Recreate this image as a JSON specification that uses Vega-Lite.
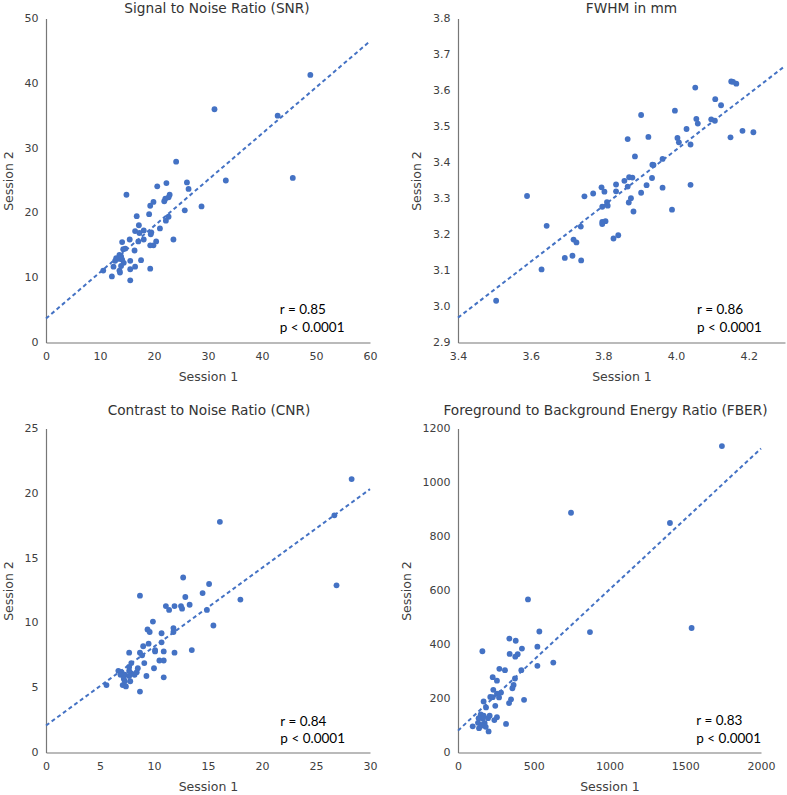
{
  "$schema": "https://vega.github.io/schema/vega-lite/v6.json",
  "background": "white",
  "padding": {"left": 2, "top": 1.5, "right": 0, "bottom": 0},
  "datasets": {
    "snr": [
      {"s1": 48.95, "s2": 41.3}, {"s1": 31.2, "s2": 36.0}, {"s1": 42.9, "s2": 35.0}, {"s1": 24.1, "s2": 27.9},
      {"s1": 33.3, "s2": 25.0}, {"s1": 45.7, "s2": 25.4}, {"s1": 26.1, "s2": 24.7}, {"s1": 22.3, "s2": 24.6},
      {"s1": 20.6, "s2": 24.1}, {"s1": 26.4, "s2": 23.7}, {"s1": 14.9, "s2": 22.8}, {"s1": 22.9, "s2": 22.8},
      {"s1": 22.7, "s2": 22.4}, {"s1": 22.1, "s2": 22.2}, {"s1": 21.9, "s2": 21.8}, {"s1": 19.9, "s2": 21.7},
      {"s1": 19.3, "s2": 21.1}, {"s1": 25.7, "s2": 20.4}, {"s1": 28.8, "s2": 21.0}, {"s1": 19.1, "s2": 19.8},
      {"s1": 16.8, "s2": 19.5}, {"s1": 22.7, "s2": 19.4}, {"s1": 22.2, "s2": 18.8}, {"s1": 17.2, "s2": 18.1},
      {"s1": 21.1, "s2": 17.6}, {"s1": 16.5, "s2": 17.2}, {"s1": 18.1, "s2": 17.3}, {"s1": 17.3, "s2": 16.9},
      {"s1": 19.5, "s2": 17.0}, {"s1": 19.4, "s2": 16.7}, {"s1": 15.5, "s2": 15.9}, {"s1": 18.1, "s2": 15.9},
      {"s1": 23.6, "s2": 15.9}, {"s1": 17.1, "s2": 15.6}, {"s1": 20.4, "s2": 15.6}, {"s1": 14.1, "s2": 15.5},
      {"s1": 19.9, "s2": 15.0}, {"s1": 19.3, "s2": 15.0}, {"s1": 14.7, "s2": 14.5}, {"s1": 14.3, "s2": 14.4},
      {"s1": 16.4, "s2": 14.2}, {"s1": 13.6, "s2": 13.5}, {"s1": 13.0, "s2": 13.0}, {"s1": 13.5, "s2": 12.9},
      {"s1": 14.1, "s2": 12.8}, {"s1": 12.8, "s2": 12.6}, {"s1": 15.6, "s2": 12.6}, {"s1": 17.6, "s2": 12.7},
      {"s1": 14.4, "s2": 12.3}, {"s1": 12.5, "s2": 11.7}, {"s1": 13.9, "s2": 11.8}, {"s1": 16.5, "s2": 11.7},
      {"s1": 19.3, "s2": 11.4}, {"s1": 15.6, "s2": 11.3}, {"s1": 10.6, "s2": 11.1}, {"s1": 13.6, "s2": 11.1},
      {"s1": 13.7, "s2": 10.8}, {"s1": 12.2, "s2": 10.2}, {"s1": 15.6, "s2": 9.6}, {"s1": 13.9, "s2": 13.3}
    ],
    "snr_fit": [{"s1": 0, "s2": 3.7}, {"s1": 60, "s2": 46.5}],
    "snr_txt": [{"s1": 43.3, "s2": 4.94, "t": "r = 0.85"}, {"s1": 43.3, "s2": 2.3, "t": "p < 0.0001"}],
    "fwhm": [
      {"s1": 3.505, "s2": 3.016}, {"s1": 3.59, "s2": 3.307}, {"s1": 3.644, "s2": 3.224}, {"s1": 3.63, "s2": 3.103},
      {"s1": 3.694, "s2": 3.135}, {"s1": 3.715, "s2": 3.141}, {"s1": 3.718, "s2": 3.186}, {"s1": 3.726, "s2": 3.178},
      {"s1": 3.739, "s2": 3.128}, {"s1": 3.738, "s2": 3.222}, {"s1": 3.748, "s2": 3.306}, {"s1": 3.772, "s2": 3.314},
      {"s1": 3.795, "s2": 3.331}, {"s1": 3.803, "s2": 3.319}, {"s1": 3.797, "s2": 3.277}, {"s1": 3.81, "s2": 3.29},
      {"s1": 3.812, "s2": 3.28}, {"s1": 3.797, "s2": 3.235}, {"s1": 3.806, "s2": 3.237}, {"s1": 3.797, "s2": 3.229},
      {"s1": 3.828, "s2": 3.189}, {"s1": 3.841, "s2": 3.198}, {"s1": 3.835, "s2": 3.339}, {"s1": 3.835, "s2": 3.32},
      {"s1": 3.858, "s2": 3.349}, {"s1": 3.867, "s2": 3.333}, {"s1": 3.871, "s2": 3.359}, {"s1": 3.88, "s2": 3.358},
      {"s1": 3.876, "s2": 3.301}, {"s1": 3.87, "s2": 3.289}, {"s1": 3.883, "s2": 3.264}, {"s1": 3.887, "s2": 3.417},
      {"s1": 3.867, "s2": 3.465}, {"s1": 3.904, "s2": 3.532}, {"s1": 3.904, "s2": 3.316}, {"s1": 3.919, "s2": 3.337},
      {"s1": 3.924, "s2": 3.471}, {"s1": 3.935, "s2": 3.394}, {"s1": 3.938, "s2": 3.393}, {"s1": 3.934, "s2": 3.357},
      {"s1": 3.963, "s2": 3.41}, {"s1": 3.963, "s2": 3.33}, {"s1": 3.989, "s2": 3.269}, {"s1": 3.997, "s2": 3.544},
      {"s1": 4.004, "s2": 3.468}, {"s1": 4.008, "s2": 3.456}, {"s1": 4.029, "s2": 3.493}, {"s1": 4.04, "s2": 3.45},
      {"s1": 4.04, "s2": 3.338}, {"s1": 4.053, "s2": 3.608}, {"s1": 4.056, "s2": 3.521}, {"s1": 4.06, "s2": 3.508},
      {"s1": 4.097, "s2": 3.52}, {"s1": 4.107, "s2": 3.516}, {"s1": 4.108, "s2": 3.576}, {"s1": 4.124, "s2": 3.559},
      {"s1": 4.15, "s2": 3.47}, {"s1": 4.152, "s2": 3.625}, {"s1": 4.166, "s2": 3.619}, {"s1": 4.183, "s2": 3.488},
      {"s1": 4.213, "s2": 3.484}, {"s1": 4.157, "s2": 3.624}
    ],
    "fwhm_fit": [{"s1": 3.4, "s2": 2.969}, {"s1": 4.3, "s2": 3.668}],
    "fwhm_txt": [{"s1": 4.058, "s2": 2.989, "t": "r = 0.86"}, {"s1": 4.058, "s2": 2.9407, "t": "p < 0.0001"}],
    "cnr": [
      {"s1": 28.3, "s2": 21.1}, {"s1": 26.7, "s2": 18.3}, {"s1": 16.1, "s2": 17.8}, {"s1": 26.9, "s2": 12.9},
      {"s1": 18.0, "s2": 11.8}, {"s1": 12.7, "s2": 13.5}, {"s1": 15.1, "s2": 13.0}, {"s1": 14.5, "s2": 12.3},
      {"s1": 12.9, "s2": 12.0}, {"s1": 8.7, "s2": 12.1}, {"s1": 11.1, "s2": 11.3}, {"s1": 11.9, "s2": 11.3},
      {"s1": 12.5, "s2": 11.3}, {"s1": 13.3, "s2": 11.4}, {"s1": 12.6, "s2": 11.1}, {"s1": 11.4, "s2": 11.0},
      {"s1": 14.9, "s2": 11.0}, {"s1": 15.5, "s2": 9.8}, {"s1": 9.9, "s2": 10.1}, {"s1": 9.4, "s2": 9.5},
      {"s1": 9.6, "s2": 9.3}, {"s1": 10.7, "s2": 9.2}, {"s1": 11.8, "s2": 9.6}, {"s1": 11.8, "s2": 9.3},
      {"s1": 10.7, "s2": 8.5}, {"s1": 9.5, "s2": 8.4}, {"s1": 9.0, "s2": 8.2}, {"s1": 10.1, "s2": 7.9},
      {"s1": 10.1, "s2": 7.8}, {"s1": 10.9, "s2": 7.8}, {"s1": 11.9, "s2": 7.7}, {"s1": 13.5, "s2": 7.9},
      {"s1": 7.7, "s2": 7.7}, {"s1": 8.7, "s2": 7.7}, {"s1": 8.9, "s2": 7.5}, {"s1": 10.5, "s2": 7.1},
      {"s1": 10.9, "s2": 7.1}, {"s1": 9.1, "s2": 6.9}, {"s1": 7.9, "s2": 6.9}, {"s1": 10.0, "s2": 6.5},
      {"s1": 7.7, "s2": 6.6}, {"s1": 8.5, "s2": 6.5}, {"s1": 6.7, "s2": 6.3}, {"s1": 7.0, "s2": 6.2},
      {"s1": 8.4, "s2": 6.2}, {"s1": 7.9, "s2": 6.1}, {"s1": 8.2, "s2": 6.0}, {"s1": 6.9, "s2": 6.0},
      {"s1": 7.3, "s2": 6.0}, {"s1": 7.7, "s2": 5.9}, {"s1": 9.3, "s2": 5.9}, {"s1": 7.2, "s2": 5.7},
      {"s1": 10.9, "s2": 5.8}, {"s1": 7.8, "s2": 5.5}, {"s1": 7.3, "s2": 5.5}, {"s1": 7.1, "s2": 5.2},
      {"s1": 7.4, "s2": 5.1}, {"s1": 5.6, "s2": 5.2}, {"s1": 8.7, "s2": 4.7}, {"s1": 7.7, "s2": 6.3}
    ],
    "cnr_fit": [{"s1": 0, "s2": 2.08}, {"s1": 30, "s2": 20.32}],
    "cnr_txt": [{"s1": 21.7, "s2": 2.39, "t": "r = 0.84"}, {"s1": 21.7, "s2": 1.03, "t": "p < 0.0001"}],
    "fber": [
      {"s1": 1742, "s2": 1135}, {"s1": 746, "s2": 888}, {"s1": 1399, "s2": 850}, {"s1": 1542, "s2": 461},
      {"s1": 462, "s2": 567}, {"s1": 537, "s2": 448}, {"s1": 871, "s2": 446}, {"s1": 339, "s2": 422},
      {"s1": 381, "s2": 414}, {"s1": 524, "s2": 392}, {"s1": 422, "s2": 385}, {"s1": 341, "s2": 365},
      {"s1": 394, "s2": 364}, {"s1": 378, "s2": 355}, {"s1": 161, "s2": 375}, {"s1": 629, "s2": 333},
      {"s1": 524, "s2": 321}, {"s1": 418, "s2": 305}, {"s1": 273, "s2": 310}, {"s1": 310, "s2": 305},
      {"s1": 229, "s2": 279}, {"s1": 376, "s2": 274}, {"s1": 257, "s2": 266}, {"s1": 367, "s2": 250},
      {"s1": 359, "s2": 238}, {"s1": 233, "s2": 232}, {"s1": 284, "s2": 222}, {"s1": 257, "s2": 218},
      {"s1": 213, "s2": 206}, {"s1": 229, "s2": 205}, {"s1": 271, "s2": 204}, {"s1": 436, "s2": 195},
      {"s1": 350, "s2": 197}, {"s1": 337, "s2": 183}, {"s1": 169, "s2": 189}, {"s1": 246, "s2": 173},
      {"s1": 185, "s2": 167}, {"s1": 209, "s2": 136}, {"s1": 257, "s2": 131}, {"s1": 150, "s2": 141},
      {"s1": 169, "s2": 136}, {"s1": 136, "s2": 127}, {"s1": 163, "s2": 125}, {"s1": 132, "s2": 110},
      {"s1": 176, "s2": 109}, {"s1": 240, "s2": 120}, {"s1": 152, "s2": 102}, {"s1": 97, "s2": 97},
      {"s1": 139, "s2": 90}, {"s1": 317, "s2": 106}, {"s1": 202, "s2": 78}, {"s1": 183, "s2": 95},
      {"s1": 158, "s2": 100}, {"s1": 198, "s2": 127}
    ],
    "fber_fit": [{"s1": 0, "s2": 81}, {"s1": 2000, "s2": 1126}],
    "fber_txt": [{"s1": 1573, "s2": 115, "t": "r = 0.83"}, {"s1": 1573, "s2": 49.6, "t": "p < 0.0001"}]
  },
  "columns": 2,
  "spacing": {"row": 86, "column": 88},
  "bounds": "flush",
  "concat": [
    {
      "title": {"text": "Signal to Noise Ratio (SNR)", "offset": -3.5, "dx": 9},
      "width": 324, "height": 324,
      "encoding": {
        "x": {"field": "s1", "type": "quantitative", "title": "Session 1", "scale": {"domain": [0, 60], "nice": false, "zero": false}, "axis": {"values": [0, 10, 20, 30, 40, 50, 60]}},
        "y": {"field": "s2", "type": "quantitative", "title": "Session 2", "scale": {"domain": [0, 50], "nice": false, "zero": false}, "axis": {"values": [0, 10, 20, 30, 40, 50]}}
      },
      "layer": [
        {"data": {"name": "snr"}, "mark": {"type": "circle", "size": 34, "opacity": 1, "color": "#4472C4"}},
        {"data": {"name": "snr_fit"}, "mark": {"type": "line", "color": "#4472C4", "strokeWidth": 2, "strokeDash": [4, 3]}},
        {"data": {"name": "snr_txt"}, "mark": {"type": "text", "align": "left", "baseline": "middle", "font": "Lato", "fontSize": 13.5, "color": "#000"}, "encoding": {"text": {"field": "t"}}}
      ]
    },
    {
      "title": {"text": "FWHM in mm", "offset": -3.5, "dx": 10},
      "width": 327, "height": 324,
      "encoding": {
        "x": {"field": "s1", "type": "quantitative", "title": "Session 1", "scale": {"domain": [3.4, 4.3], "nice": false, "zero": false}, "axis": {"values": [3.4, 3.6, 3.8, 4.0, 4.2], "format": ".1f"}},
        "y": {"field": "s2", "type": "quantitative", "title": "Session 2", "scale": {"domain": [2.9, 3.8], "nice": false, "zero": false}, "axis": {"values": [2.9, 3.0, 3.1, 3.2, 3.3, 3.4, 3.5, 3.6, 3.7, 3.8], "format": ".1f"}}
      },
      "layer": [
        {"data": {"name": "fwhm"}, "mark": {"type": "circle", "size": 34, "opacity": 1, "color": "#4472C4"}},
        {"data": {"name": "fwhm_fit"}, "mark": {"type": "line", "color": "#4472C4", "strokeWidth": 2, "strokeDash": [4, 3]}},
        {"data": {"name": "fwhm_txt"}, "mark": {"type": "text", "align": "left", "baseline": "middle", "font": "Lato", "fontSize": 13.5, "color": "#000"}, "encoding": {"text": {"field": "t"}}}
      ]
    },
    {
      "title": {"text": "Contrast to Noise Ratio (CNR)", "offset": 5, "dx": 1},
      "width": 324, "height": 324,
      "encoding": {
        "x": {"field": "s1", "type": "quantitative", "title": "Session 1", "scale": {"domain": [0, 30], "nice": false, "zero": false}, "axis": {"values": [0, 5, 10, 15, 20, 25, 30]}},
        "y": {"field": "s2", "type": "quantitative", "title": "Session 2", "scale": {"domain": [0, 25], "nice": false, "zero": false}, "axis": {"values": [0, 5, 10, 15, 20, 25]}}
      },
      "layer": [
        {"data": {"name": "cnr"}, "mark": {"type": "circle", "size": 34, "opacity": 1, "color": "#4472C4"}},
        {"data": {"name": "cnr_fit"}, "mark": {"type": "line", "color": "#4472C4", "strokeWidth": 2, "strokeDash": [4, 3]}},
        {"data": {"name": "cnr_txt"}, "mark": {"type": "text", "align": "left", "baseline": "middle", "font": "Lato", "fontSize": 13.5, "color": "#000"}, "encoding": {"text": {"field": "t"}}}
      ]
    },
    {
      "title": {"text": "Foreground to Background Energy Ratio (FBER)", "offset": 5, "dx": -4},
      "width": 303, "height": 324,
      "encoding": {
        "x": {"field": "s1", "type": "quantitative", "title": "Session 1", "scale": {"domain": [0, 2000], "nice": false, "zero": false}, "axis": {"values": [0, 500, 1000, 1500, 2000], "format": "d"}},
        "y": {"field": "s2", "type": "quantitative", "title": "Session 2", "scale": {"domain": [0, 1200], "nice": false, "zero": false}, "axis": {"values": [0, 200, 400, 600, 800, 1000, 1200], "format": "d"}}
      },
      "layer": [
        {"data": {"name": "fber"}, "mark": {"type": "circle", "size": 34, "opacity": 1, "color": "#4472C4"}},
        {"data": {"name": "fber_fit"}, "mark": {"type": "line", "color": "#4472C4", "strokeWidth": 2, "strokeDash": [4, 3]}},
        {"data": {"name": "fber_txt"}, "mark": {"type": "text", "align": "left", "baseline": "middle", "font": "Lato", "fontSize": 13.5, "color": "#000"}, "encoding": {"text": {"field": "t"}}}
      ]
    }
  ],
  "config": {
    "view": {"stroke": null},
    "font": "DejaVu Sans",
    "title": {"font": "DejaVu Sans", "fontSize": 13.7, "fontWeight": "normal", "color": "#333", "anchor": "middle", "baseline": "alphabetic"},
    "axis": {
      "grid": false, "ticks": false, "tickSize": 0, "labelFlush": false,
      "domainColor": "#777", "domainWidth": 1.2,
      "labelFont": "DejaVu Sans", "labelFontSize": 11, "labelColor": "#404040", "labelPadding": 8,
      "titleFont": "DejaVu Sans", "titleFontSize": 12.5, "titleFontWeight": "normal", "titleColor": "#404040", "titlePadding": 9
    }
  }
}
